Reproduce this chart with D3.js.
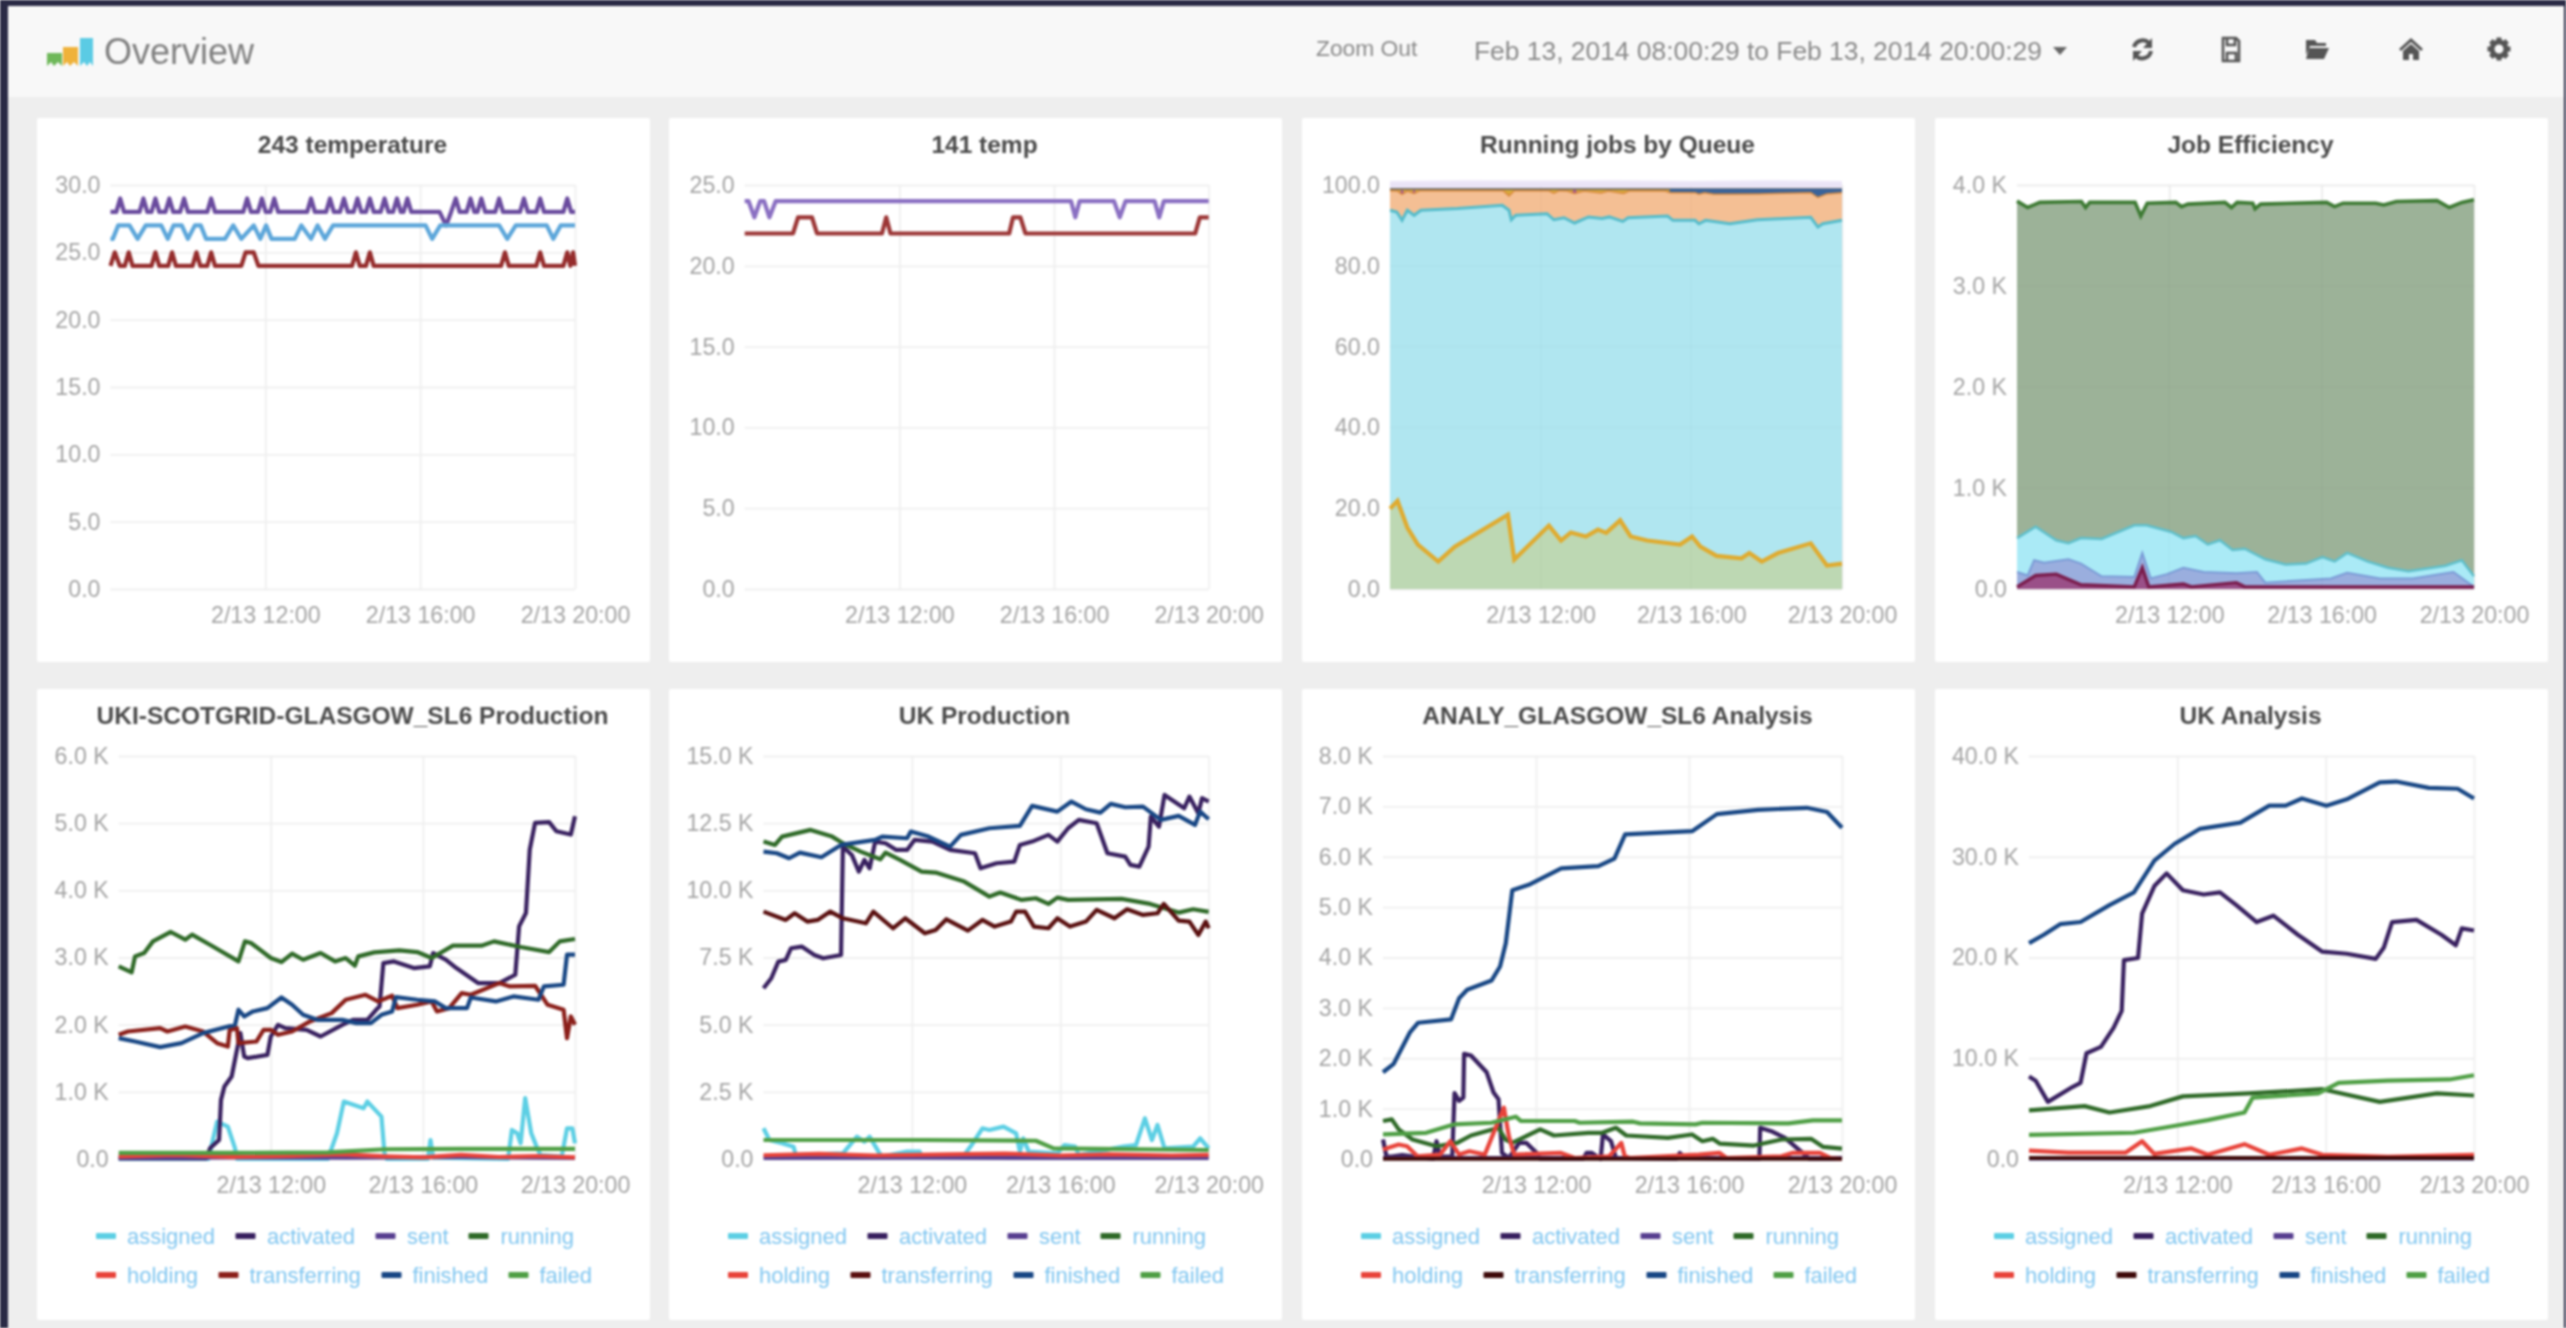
<!DOCTYPE html>
<html>
<head>
<meta charset="utf-8">
<script src="https://cdnjs.cloudflare.com/ajax/libs/d3/7.8.5/d3.min.js"></script>
<style>
html, body { margin: 0; padding: 0; background: #eeeeee; overflow: hidden; }
svg { display: block; filter: blur(1.2px); }
text { font-family: "Liberation Sans", Arial, sans-serif; }
.tick text { fill: #a4a4a4; font-size: 23.2px; }
.tick line { stroke: #efefef; stroke-width: 1.8; }
.domain { display: none; }
.title { fill: #4a4a4a; font-size: 24.5px; font-weight: bold; text-anchor: middle; }
.legend text { fill: #80c6f0; font-size: 22px; }
</style>
</head>
<body>
<script>
// all series are [hours after 08:00:29, value]
var xTicks = [4, 8, 12];
var xLabels = ["2/13 12:00", "2/13 16:00", "2/13 20:00"];
var legendNames = ["assigned", "activated", "sent", "running", "holding", "transferring", "finished", "failed"];

var temp243Purple = [[0,28],[.15,28],[.25,29],[.35,28],[.75,28],[.85,29],[.95,28],[1.06,28],[1.16,29],[1.26,28],[1.42,28],[1.52,29],[1.62,28],[1.8,28],[1.9,29],[2,28],[2.5,28],[2.6,29],[2.7,28],[3.43,28],[3.53,29],[3.63,28],[3.81,28],[3.91,29],[4.01,28],[4.13,28],[4.23,29],[4.33,28],[5.08,28],[5.18,29],[5.28,28],[5.57,28],[5.67,29],[5.77,28],[5.93,28],[6.03,29],[6.13,28],[6.28,28],[6.38,29],[6.48,28],[6.6,28],[6.7,29],[6.8,28],[6.98,28],[7.08,29],[7.18,28],[7.3,28],[7.4,29],[7.5,28],[7.57,28],[7.67,29],[7.77,28],[8.5,28],[8.67,27],[8.8,28],[8.92,29],[9.02,28],[9.2,28],[9.3,29],[9.4,28],[9.48,28],[9.58,29],[9.68,28],[9.94,28],[10.04,29],[10.14,28],[10.58,28],[10.68,29],[10.78,28],[11,28],[11.1,29],[11.2,28],[11.7,28],[11.8,29],[11.9,28],[12,28]];
var temp243Blue = [[0,26],[.06,26],[.2,27],[.49,27],[.7,26],[.91,27],[1.31,27],[1.48,26],[1.63,27],[1.84,27],[2,26],[2.18,27],[2.33,27],[2.47,26],[2.96,26],[3.17,27],[3.38,26],[3.7,27],[3.87,26],[4.02,27],[4.16,26],[4.76,26],[4.93,27],[5.18,26],[5.35,27],[5.54,26],[5.75,27],[8.14,27],[8.31,26],[8.52,27],[10.04,27],[10.25,26],[10.47,27],[11.27,27],[11.44,26],[11.63,27],[12,27]];
var temp243Red = [[0,24],[.11,25],[.24,24],[.37,24],[.47,25],[.57,24],[1.06,24],[1.16,25],[1.26,24],[1.49,24],[1.59,25],[1.69,24],[2.12,24],[2.22,25],[2.32,24],[2.5,24],[2.6,25],[2.7,24],[3.38,24],[3.49,25],[3.7,25],[3.82,24],[6.24,24],[6.34,25],[6.44,24],[6.6,24],[6.7,25],[6.8,24],[10.09,24],[10.19,25],[10.29,24],[11,24],[11.1,25],[11.2,24],[11.7,24],[11.8,25],[11.88,24],[11.95,25],[12,24]];

var temp141Purple = [[0,24],[.1,24],[.25,23],[.4,24],[.5,24],[.64,23],[.8,24],[8.44,24],[8.55,23],[8.66,24],[9.55,24],[9.7,23],[9.85,24],[10.6,24],[10.72,23],[10.84,24],[12,24]];
var temp141Red = [[0,22],[1.25,22],[1.38,23],[1.74,23],[1.87,22],[3.55,22],[3.66,23],[3.77,22],[6.84,22],[6.94,23],[7.13,23],[7.26,22],[11.65,22],[11.77,23],[12,23]];

var queueLilac = [[0,101],[2,101.2],[4,101.1],[6,101.2],[8,101],[10,101.2],[12,101]];
var queueYellow = [[0,99],[12,99]];
var queueBlue = [[0,97],[7.3,97],[7.45,99],[12,99]];
var queueMagenta = [[.2,97],[.32,98.9],[.44,97],[.52,97],[.64,98.9],[.75,97],[4.7,97],[4.9,98.9],[5.1,97],[12,97]];
var queueOrange = [[0,98.6],[.2,98.5],[.32,97.7],[.46,98.5],[.64,97.9],[.8,98.6],[3,98.6],[3.16,97.3],[3.3,98.6],[4.2,98.6],[4.35,98],[4.5,98.6],[4.7,98.5],[4.9,97.9],[5.15,98.5],[5.6,98],[5.8,98.5],[6.2,97.9],[6.35,98.5],[7.3,98.5],[7.45,98.1],[8.1,98.1],[8.2,97.7],[8.35,98.1],[8.6,97.7],[9.8,97.8],[11.17,98.1],[11.36,96.9],[11.6,97.8],[12,98.1]];
var queueCyan = [[0,93.75],[.18,93.3],[.32,91.25],[.46,93.75],[.64,92.5],[.82,93.75],[1.79,94.2],[2.98,95],[3.16,93.75],[3.22,91.4],[3.34,92.5],[4.17,92.9],[4.35,91.4],[4.62,91.9],[4.9,90.6],[5.27,92.1],[5.63,91.7],[5.82,92.1],[6.18,91],[6.32,91.9],[7.37,92.3],[7.51,91.25],[8.1,91.25],[8.2,90.4],[8.38,91.25],[9.02,90.4],[9.75,91.4],[11.17,92],[11.36,89.6],[11.49,90.4],[12,91.25]];
var queueGreen = [[0,19.9],[.2,21.8],[.46,15.2],[.74,11],[1.28,6.8],[1.72,10.5],[3.13,18.4],[3.3,7.3],[4.22,15.7],[4.54,12],[4.8,14],[5.2,13],[5.52,14.7],[5.74,13.9],[6.11,17],[6.39,13],[6.83,12],[7.7,11],[8.02,13],[8.24,10.5],[8.67,8.2],[9.33,7.6],[9.54,8.9],[9.87,6.8],[10.3,8.9],[11.17,11.3],[11.6,5.8],[12,6.3]];

var effGreen = [[0,3840],[.28,3777],[.6,3828],[1.69,3836],[1.8,3777],[1.91,3828],[3.1,3828],[3.25,3693],[3.42,3820],[4.17,3828],[4.32,3786],[4.49,3811],[5.46,3828],[5.63,3777],[5.78,3828],[6.19,3820],[6.25,3765],[6.4,3811],[8.13,3828],[8.34,3786],[8.56,3820],[9.42,3820],[9.63,3803],[9.96,3836],[11.03,3845],[11.35,3777],[11.68,3828],[12,3853]];
var effCyan = [[0,504],[.49,617],[1.03,483],[1.35,453],[1.68,504],[2.22,495],[3.08,630],[3.4,630],[4.04,567],[4.37,504],[4.69,525],[5.01,441],[5.33,483],[5.66,386],[5.98,399],[6.52,294],[7.05,243],[7.59,252],[8.02,315],[8.34,273],[8.67,357],[9.2,273],[9.74,210],[10.28,176],[11.25,231],[11.68,285],[12,126]];
var effBlue = [[0,168],[.28,134],[.45,285],[.71,260],[1.35,294],[1.68,252],[2.22,126],[3.08,118],[3.29,357],[3.51,105],[3.94,147],[4.37,210],[4.9,168],[5.76,155],[6.3,168],[6.52,63],[8.24,105],[8.67,160],[9.53,105],[10.39,105],[11.46,168],[12,21]];
var effMaroon = [[0,21],[.49,134],[1.03,147],[1.68,42],[3.08,21],[3.29,210],[3.46,21],[4.37,50],[4.58,21],[5.76,63],[5.98,21],[12,21]];

var glaProdAssigned = [[0,0],[2.36,0],[2.59,557],[2.87,482],[3.06,159],[3.11,0],[5.5,0],[5.74,383],[5.92,855],[6.44,755],[6.54,855],[6.91,631],[6.99,84],[7.05,0],[8.13,0],[8.2,283],[8.27,20],[10.24,0],[10.34,432],[10.48,383],[10.57,235],[10.69,905],[10.85,383],[10.99,184],[11.09,60],[11.65,35],[11.79,457],[11.93,457],[12,234]];
var glaProdActivated = [[0,10],[2.31,10],[2.4,159],[2.64,283],[2.69,880],[2.78,1078],[2.97,1228],[3.11,1625],[3.2,1874],[3.3,1526],[3.39,1501],[3.91,1551],[4,1824],[4.19,1998],[4.38,1948],[4.94,1923],[5.31,1824],[5.88,1998],[6.16,2072],[6.54,2072],[6.77,2222],[6.86,2271],[6.96,2917],[7.24,2942],[7.76,2843],[8.18,2868],[8.27,3066],[8.6,2967],[8.88,2843],[9.45,2619],[10.01,2619],[10.43,2743],[10.53,3464],[10.71,3663],[10.81,4607],[10.95,5005],[11.32,5015],[11.51,4880],[11.89,4831],[12,5104]];
var glaProdSent = [[0,15],[3,25],[6,20],[9,30],[12,15]];
var glaProdRunning = [[0,2868],[.34,2778],[.43,3017],[.67,3067],[.9,3240],[1.37,3380],[1.75,3265],[1.93,3340],[2.4,3190],[3.15,2942],[3.32,3240],[3.48,3216],[4,2992],[4.28,2932],[4.56,3057],[4.85,2967],[5.31,3067],[5.69,2942],[5.97,2992],[6.21,2878],[6.3,3017],[6.72,3076],[7.38,3106],[7.85,3081],[8.23,2992],[8.79,3176],[9.54,3176],[9.87,3240],[10.57,3156],[11.32,3081],[11.6,3240],[12,3275]];
var glaProdHolding = [[0,40],[1.5,60],[3,30],[4.5,45],[5.9,70],[7,40],[8,25],[9,60],[10,30],[11,45],[12,25]];
var glaProdTransferring = [[0,1849],[.24,1898],[1.09,1948],[1.28,1898],[1.75,1973],[2.22,1898],[2.59,1725],[2.87,1675],[2.92,1923],[3.11,1948],[3.15,1725],[3.62,1749],[3.81,1923],[4,1923],[4.19,1849],[4.56,1898],[5.03,2048],[5.6,2172],[5.97,2371],[6.49,2445],[6.82,2346],[7.19,2430],[7.33,2246],[7.85,2296],[8.23,2346],[8.37,2197],[8.69,2246],[9.02,2470],[9.26,2445],[10.01,2619],[10.29,2569],[10.95,2579],[11.28,2296],[11.7,2222],[11.79,1799],[11.89,2122],[12,1998]];
var glaProdFinished = [[0,1799],[.43,1749],[1.09,1665],[1.65,1725],[2.22,1874],[3.06,1998],[3.15,2222],[3.3,2122],[3.53,2197],[3.91,2246],[4.28,2405],[4.56,2296],[4.85,2147],[5.22,2072],[5.88,2072],[6.25,2023],[6.63,2023],[6.91,2147],[7.19,2197],[7.29,2410],[7.85,2371],[8.32,2346],[8.6,2246],[9.16,2246],[9.26,2405],[9.92,2346],[10.38,2420],[11.04,2371],[11.18,2569],[11.7,2594],[11.79,3042],[12,3042]];
var glaProdFailed = [[0,90],[3,90],[5.5,100],[7,145],[9,150],[12,150]];

var ukProdAssigned = [[0,1142],[.16,707],[.5,583],[.81,459],[.87,149],[2.14,211],[2.52,831],[2.72,645],[2.86,831],[3.1,273],[3.2,87],[3.87,273],[4.21,273],[4.26,87],[5.41,149],[5.61,521],[5.9,1142],[6.09,1080],[6.47,1204],[6.81,956],[6.91,273],[7,769],[7.15,273],[7.92,211],[8.11,521],[8.4,459],[8.5,149],[9.7,459],[10.04,521],[10.28,1514],[10.47,707],[10.62,1266],[10.81,397],[11.58,459],[11.77,769],[12,397]];
var ukProdActivated = [[0,6354],[.21,6726],[.4,7347],[.6,7409],[.74,7843],[1.03,7905],[1.37,7595],[1.61,7471],[2.09,7595],[2.14,11628],[2.38,11318],[2.57,10697],[2.72,11132],[2.86,10821],[3.01,11814],[3.29,11752],[3.58,11504],[3.87,11504],[4.07,11876],[4.55,11814],[5.03,11504],[5.7,11380],[5.85,10821],[6.28,11008],[6.76,11070],[6.91,11690],[7.24,11814],[7.68,12063],[7.92,11814],[8.21,12311],[8.5,12621],[8.98,12497],[9.27,11380],[9.75,11256],[9.89,10946],[10.13,10884],[10.38,11628],[10.44,12745],[10.66,12373],[10.81,13552],[11.34,13055],[11.48,13490],[11.72,12869],[11.82,13428],[12,13304]];
var ukProdSent = [[0,40],[4,50],[8,40],[12,45]];
var ukProdRunning = [[0,11814],[.31,11690],[.5,12000],[1.27,12249],[1.85,12000],[2.14,11752],[2.62,11442],[3.15,11157],[3.29,11405],[3.68,11132],[4.26,10697],[4.64,10660],[5.41,10325],[6.09,9767],[6.38,9916],[6.96,9643],[7.34,9705],[7.68,9494],[7.92,9730],[8.21,9643],[9.65,9680],[10.42,9494],[11.19,9171],[11.58,9295],[12,9196]];
var ukProdHolding = [[0,140],[1.5,190],[3,130],[5,170],[6.5,200],[8,130],[9.3,170],[11,130],[12,150]];
var ukProdTransferring = [[0,9208],[.6,8898],[.84,9146],[1.18,8836],[1.46,8898],[1.8,9208],[2.14,8960],[2.76,8774],[2.96,9208],[3.49,8588],[3.82,8960],[4.35,8401],[4.64,8526],[4.93,8923],[5.51,8501],[5.9,8898],[6.23,8650],[6.67,8836],[6.81,9208],[7.05,9208],[7.29,8650],[7.68,8588],[7.92,8960],[8.26,8650],[8.69,8836],[8.98,9270],[9.46,8960],[9.8,9295],[10.23,9084],[10.62,9146],[10.79,9494],[11.19,8873],[11.48,8836],[11.72,8340],[11.92,8836],[12,8588]];
var ukProdFinished = [[0,11442],[.36,11380],[.69,11194],[.98,11405],[1.56,11231],[2.09,11690],[3.01,11876],[3.2,12000],[3.87,11938],[3.97,12187],[4.45,12000],[5.03,11628],[5.32,12063],[6.09,12311],[6.91,12398],[7.24,13142],[7.92,12931],[8.3,13304],[8.69,13018],[9.08,12894],[9.36,13217],[9.75,13093],[10.23,13117],[10.71,12621],[11.19,12770],[11.63,12435],[11.77,12931],[12,12646]];
var ukProdFailed = [[0,707],[4.3,707],[7.34,680],[7.82,397],[12,335]];

var analyAssigned = [[0,20],[12,20]];
var analyActivated = [[0,387],[.09,50],[.23,50],[.5,80],[1.31,0],[1.4,353],[1.49,50],[1.81,50],[1.87,1307],[1.99,1154],[2.1,1220],[2.12,2088],[2.3,2054],[2.71,1721],[2.89,1320],[3.02,1187],[3.11,120],[3.29,20],[3.56,320],[3.75,320],[4.02,120],[4.11,0],[5.23,0],[5.32,120],[5.46,120],[5.69,0],[5.75,487],[5.96,353],[6.09,20],[7.67,0],[7.76,120],[7.9,20],[9.84,0],[9.86,620],[10.15,553],[10.51,420],[10.97,120],[11.15,0],[12,0]];
var analySent = [[0,20],[12,20]];
var analyRunning = [[0,754],[.23,787],[.41,587],[.77,387],[1.4,253],[1.94,320],[2.3,467],[3.02,620],[3.2,387],[3.38,320],[4.11,587],[4.47,467],[5.37,520],[5.73,520],[6.09,620],[6.36,467],[7.45,420],[8.08,487],[8.35,353],[8.62,400],[8.8,307],[9.7,267],[10.42,387],[11.19,400],[11.51,240],[12,207]];
var analyHolding = [[0,187],[.41,287],[.63,253],[.9,53],[1.49,87],[1.76,353],[1.99,87],[2.26,153],[2.66,87],[3.16,1020],[3.29,453],[3.43,87],[4.65,120],[5.01,20],[5.91,53],[6.23,320],[6.32,53],[6.45,20],[8.26,87],[8.8,120],[8.98,20],[10.42,53],[10.7,120],[11.42,120],[11.69,20],[12,0]];
var analyTransferring = [[0,5],[12,5]];
var analyFinished = [[0,1722],[.28,1890],[.71,2520],[.92,2705],[1.78,2772],[1.99,3192],[2.2,3360],[2.84,3545],[3.06,3822],[3.21,4284],[3.38,5334],[3.81,5443],[4.66,5771],[5.63,5813],[6.05,5964],[6.33,6443],[8.09,6510],[8.73,6846],[9.8,6930],[11.08,6972],[11.61,6888],[12,6577]];
var analyFailed = [[0,487],[1.13,520],[1.85,687],[2.84,720],[3.47,840],[3.61,754],[5.01,754],[5.14,720],[6.54,740],[6.72,707],[8.17,687],[8.35,720],[10.6,707],[11.24,767],[12,767]];

var ukAnaAssigned = [[0,80],[12,80]];
var ukAnaActivated = [[0,8190],[.18,7770],[.51,5670],[1.17,7140],[1.39,7560],[1.55,10500],[1.94,11130],[2.28,13020],[2.5,14700],[2.56,19740],[2.94,19950],[3.05,24360],[3.38,27090],[3.71,28350],[4.15,26670],[4.71,26250],[5.15,26460],[5.59,25200],[6.14,23520],[6.59,24150],[7.25,22260],[7.91,20580],[8.57,20370],[9.35,19866],[9.57,21000],[9.79,23520],[10.45,23730],[11.12,22260],[11.51,21210],[11.67,22890],[12,22680]];
var ukAnaSent = [[0,60],[12,60]];
var ukAnaRunning = [[0,4830],[1.5,5250],[2.17,4620],[3.27,5250],[4.15,6216],[5.92,6510],[7.91,6930],[9.46,5670],[11,6510],[12,6300]];
var ukAnaHolding = [[0,840],[1.06,630],[2.6,630],[3.05,1764],[3.38,504],[4.38,1050],[4.82,420],[5.81,1470],[6.48,420],[7.36,1050],[7.91,420],[9.68,210],[12,420]];
var ukAnaTransferring = [[0,100],[12,100]];
var ukAnaFinished = [[0,21420],[.4,22260],[.84,23310],[1.39,23520],[2.17,25200],[2.83,26460],[3.38,29610],[3.93,31290],[4.6,32760],[5.7,33390],[6.48,35070],[6.92,35070],[7.36,35784],[8.02,35070],[8.57,35700],[9.46,37380],[9.9,37464],[10.78,36834],[11.56,36750],[12,35784]];
var ukAnaFailed = [[0,2394],[2.83,2604],[3.71,3150],[4.82,3864],[5.81,4620],[6.03,6090],[7.8,6510],[8.35,7560],[9.68,7770],[11.34,7896],[12,8316]];

var jobColors = ["#5ccfe4", "#38205f", "#583f90", "#2f6a28", "#e8433a", "#8b1f1a", "#174684", "#4f9f45"];

var panels = [
  { title: "243 temperature", col: 0, row: 0, left: 110.5, right: 575, yTicks: [0,5,10,15,20,25,30], yLabels: ["0.0","5.0","10.0","15.0","20.0","25.0","30.0"],
    series: [temp243Purple, temp243Blue, temp243Red], colors: ["#6a4b9e", "#5ca6da", "#952c2c"] },
  { title: "141 temp", col: 1, row: 0, left: 744.7, right: 1208.7, yTicks: [0,5,10,15,20,25], yLabels: ["0.0","5.0","10.0","15.0","20.0","25.0"],
    series: [temp141Purple, temp141Red], colors: ["#8a6fc2", "#9c3636"] },
  { title: "Running jobs by Queue", col: 2, row: 0, left: 1390, right: 1842, yTicks: [0,20,40,60,80,100], yLabels: ["0.0","20.0","40.0","60.0","80.0","100.0"],
    areas: [
      { data: queueLilac, fill: "#ece6f8" }, { data: queueYellow, fill: "#d9a93a", stroke: "#5a5a5a", width: 1.5 },
      { data: queueBlue, fill: "#39639a" }, { data: queueMagenta, fill: "#a04aa0" },
      { data: queueOrange, fill: "#f4bf94", stroke: "#d98a3e", width: 1.5 },
      { data: queueCyan, fill: "#b0e6f0", stroke: "#55bccb", width: 3 },
      { data: queueGreen, fill: "#bdd8b3", stroke: "#e0ab2f", width: 4.2 }
    ] },
  { title: "Job Efficiency", col: 3, row: 0, left: 2017, right: 2474, yTicks: [0,1000,2000,3000,4000], yLabels: ["0.0","1.0 K","2.0 K","3.0 K","4.0 K"],
    areas: [
      { data: effGreen, fill: "#9cb298", stroke: "#3d7a33", width: 3.6 },
      { data: effCyan, fill: "#aaeaf6", stroke: "#5fbfcb", width: 2.5 },
      { data: effBlue, fill: "#9aaede", stroke: "#7a9bd6", width: 2 },
      { data: effMaroon, fill: "#9a5088", stroke: "#7a1d4d", width: 3.4 }
    ] },
  { title: "UKI-SCOTGRID-GLASGOW_SL6 Production", col: 0, row: 1, left: 118.7, right: 575, yTicks: [0,1000,2000,3000,4000,5000,6000], yLabels: ["0.0","1.0 K","2.0 K","3.0 K","4.0 K","5.0 K","6.0 K"], legend: true,
    series: [glaProdAssigned, glaProdActivated, glaProdSent, glaProdRunning, glaProdHolding, glaProdTransferring, glaProdFinished, glaProdFailed], colors: jobColors },
  { title: "UK Production", col: 1, row: 1, left: 763.5, right: 1208.7, yTicks: [0,2500,5000,7500,10000,12500,15000], yLabels: ["0.0","2.5 K","5.0 K","7.5 K","10.0 K","12.5 K","15.0 K"], legend: true,
    series: [ukProdAssigned, ukProdActivated, ukProdSent, ukProdRunning, ukProdHolding, ukProdTransferring, ukProdFinished, ukProdFailed],
    colors: ["#5ccfe4", "#38205f", "#583f90", "#2f6a28", "#e8433a", "#5a1010", "#174684", "#4f9f45"] },
  { title: "ANALY_GLASGOW_SL6 Analysis", col: 2, row: 1, left: 1383, right: 1842, yTicks: [0,1000,2000,3000,4000,5000,6000,7000,8000], yLabels: ["0.0","1.0 K","2.0 K","3.0 K","4.0 K","5.0 K","6.0 K","7.0 K","8.0 K"], legend: true,
    series: [analyAssigned, analyActivated, analySent, analyRunning, analyHolding, analyTransferring, analyFinished, analyFailed],
    colors: ["#5ccfe4", "#38205f", "#583f90", "#2f6a28", "#e8433a", "#3e0a0a", "#174684", "#4f9f45"] },
  { title: "UK Analysis", col: 3, row: 1, left: 2029, right: 2474, yTicks: [0,10000,20000,30000,40000], yLabels: ["0.0","10.0 K","20.0 K","30.0 K","40.0 K"], legend: true,
    series: [ukAnaAssigned, ukAnaActivated, ukAnaSent, ukAnaRunning, ukAnaHolding, ukAnaTransferring, ukAnaFinished, ukAnaFailed],
    colors: ["#5ccfe4", "#38205f", "#583f90", "#2f6a28", "#e8433a", "#3e0a0a", "#174684", "#4f9f45"] }
];

var colLeft = [37, 669, 1302, 1935];
var panelWidth = 613;
var rowTop = [118, 689];
var rowBottom = [662, 1320];
var plotTop = [185, 756];
var plotBottom = [589, 1159];
var legendRows = [
  [[0, 31, 0], [139.5, 171, 1], [279.5, 311, 2], [372.5, 404.5, 3]],
  [[0, 31, 4], [122.5, 153.5, 5], [285.5, 316.5, 6], [412.5, 443.5, 7]]
];
var legendY = [1236, 1275];

function hourDate(h) {
  return new Date(2014, 1, 13, 8, 0, 29 + h * 3600);
}

var svg = d3.select("body").append("svg")
  .attr("width", 2566)
  .attr("height", 1328);

// page chrome
svg.append("rect").attr("width", 2566).attr("height", 1328).attr("fill", "#eeeeee");
svg.append("rect").attr("x", 8).attr("y", 6).attr("width", 2556).attr("height", 91).attr("fill", "#f8f8f8");
svg.append("rect").attr("width", 2566).attr("height", 6).attr("fill", "#2a2a45");
svg.append("rect").attr("width", 8).attr("height", 1328).attr("fill", "#2a2a45");
svg.append("rect").attr("x", 2564).attr("width", 2).attr("height", 1328).attr("fill", "#2a2a45");

drawHeader();
panels.forEach(drawPanel);

function drawPanel(p) {
  var px = colLeft[p.col];
  var top = plotTop[p.row], bottom = plotBottom[p.row];

  svg.append("rect")
    .attr("x", px).attr("y", rowTop[p.row])
    .attr("width", panelWidth).attr("height", rowBottom[p.row] - rowTop[p.row])
    .attr("rx", 2).attr("fill", "#ffffff");

  svg.append("text")
    .attr("class", "title")
    .attr("x", px + panelWidth / 2 + 9)
    .attr("y", rowTop[p.row] + 26)
    .attr("dy", "0.35em")
    .text(p.title);

  var x = d3.scaleTime().domain([hourDate(0), hourDate(12)]).range([p.left, p.right]);
  var y = d3.scaleLinear().domain([0, p.yTicks[p.yTicks.length - 1]]).range([bottom, top]);

  svg.append("g")
    .attr("transform", "translate(0," + bottom + ")")
    .call(d3.axisBottom(x)
      .tickValues(xTicks.map(function(h) { return hourDate(h); }))
      .tickFormat(function(d, i) { return xLabels[i]; })
      .tickSize(-(bottom - top))
      .tickPadding(18));

  svg.append("g")
    .attr("transform", "translate(" + p.left + ",0)")
    .call(d3.axisLeft(y)
      .tickValues(p.yTicks)
      .tickFormat(function(d, i) { return p.yLabels[i]; })
      .tickSize(-(p.right - p.left))
      .tickPadding(10));

  var line = d3.line()
    .x(function(d) { return x(hourDate(d[0])); })
    .y(function(d) { return y(d[1]); });

  if (p.areas) {
    var area = d3.area()
      .x(function(d) { return x(hourDate(d[0])); })
      .y0(bottom)
      .y1(function(d) { return y(d[1]); });
    p.areas.forEach(function(a) {
      svg.append("path").attr("d", area(a.data)).attr("fill", a.fill);
      if (a.stroke) {
        svg.append("path").attr("d", line(a.data))
          .attr("fill", "none").attr("stroke", a.stroke).attr("stroke-width", a.width);
      }
    });
    // grid shows faintly through the stacked areas
    xTicks.forEach(function(h) {
      svg.append("line")
        .attr("x1", x(hourDate(h))).attr("x2", x(hourDate(h)))
        .attr("y1", top).attr("y2", bottom)
        .attr("stroke", "#000").attr("stroke-opacity", 0.02).attr("stroke-width", 1.5);
    });
    p.yTicks.forEach(function(v) {
      svg.append("line")
        .attr("x1", p.left).attr("x2", p.right)
        .attr("y1", y(v)).attr("y2", y(v))
        .attr("stroke", "#000").attr("stroke-opacity", 0.02).attr("stroke-width", 1.5);
    });
  }

  if (p.series) {
    p.series.forEach(function(s, i) {
      svg.append("path")
        .attr("d", line(s))
        .attr("fill", "none")
        .attr("stroke", p.colors[i])
        .attr("stroke-width", 4.2)
        .attr("stroke-linejoin", "round");
    });
  }

  if (p.legend) {
    var lg = svg.append("g").attr("class", "legend");
    legendRows.forEach(function(row, r) {
      row.forEach(function(item) {
        lg.append("rect")
          .attr("x", px + 59 + item[0]).attr("y", legendY[r] - 3)
          .attr("width", 20).attr("height", 6).attr("rx", 1)
          .attr("fill", p.colors[item[2]]);
        lg.append("text")
          .attr("x", px + 59 + item[1]).attr("y", legendY[r])
          .attr("dy", "0.35em")
          .text(legendNames[item[2]]);
      });
    });
  }
}

function drawHeader() {
  // logo
  svg.append("path").attr("fill", "#6fb85a").attr("d", "M47 53h15v13l-4-4-4 4-3-4-4 4z");
  svg.append("path").attr("fill", "#efb23a").attr("d", "M63 47h15v19l-4-4-4 4-3-4-4 4z");
  svg.append("path").attr("fill", "#5bcbe4").attr("d", "M80 38h13v28l-3-4-3 4-3-4-4 4z");

  svg.append("text").attr("x", 104).attr("y", 51).attr("dy", "0.35em")
    .attr("font-size", 36).attr("fill", "#808080").text("Overview");
  svg.append("text").attr("x", 1316).attr("y", 48).attr("dy", "0.35em")
    .attr("font-size", 22.8).attr("fill", "#8a8a8a").text("Zoom Out");
  svg.append("text").attr("x", 1474).attr("y", 51).attr("dy", "0.35em")
    .attr("font-size", 26.4).attr("fill", "#8a8a8a").text("Feb 13, 2014 08:00:29 to Feb 13, 2014 20:00:29");
  svg.append("path").attr("fill", "#666").attr("d", "M2053 47h14l-7 8z");

  var ink = "#555555";
  // refresh
  svg.append("path").attr("fill", "none").attr("stroke", ink).attr("stroke-width", 4)
    .attr("d", "M2134 47a9 9 0 0 1 15-4M2151 51a9 9 0 0 1-15 5");
  svg.append("path").attr("fill", ink).attr("d", "M2152 38v10h-9zM2133 61v-10h9z");
  // save
  svg.append("path").attr("fill", "none").attr("stroke", ink).attr("stroke-width", 2.6)
    .attr("d", "M2223 38h13l3 3v20h-16zM2227 38v7h8v-7M2227 61v-8h9v8");
  // folder
  svg.append("path").attr("fill", ink).attr("d", "M2306 40h9l2 3h9v3h-16l-4 9zM2309 48h20l-5 11h-18z");
  // home
  svg.append("path").attr("fill", ink).attr("d", "M2411 38l12 11-2 2-10-9-10 9-2-2zM2403 51l8-7 8 7v9h-6v-6h-4v6h-6z");
  // gear
  var gear = svg.append("g").attr("transform", "translate(2499,49)");
  gear.append("circle").attr("r", 7).attr("fill", "none").attr("stroke", ink).attr("stroke-width", 5);
  d3.range(0, 360, 45).forEach(function(a) {
    gear.append("rect").attr("x", -2.5).attr("y", -11.5).attr("width", 5).attr("height", 5)
      .attr("fill", ink).attr("transform", "rotate(" + a + ")");
  });
}
</script>
</body>
</html>
